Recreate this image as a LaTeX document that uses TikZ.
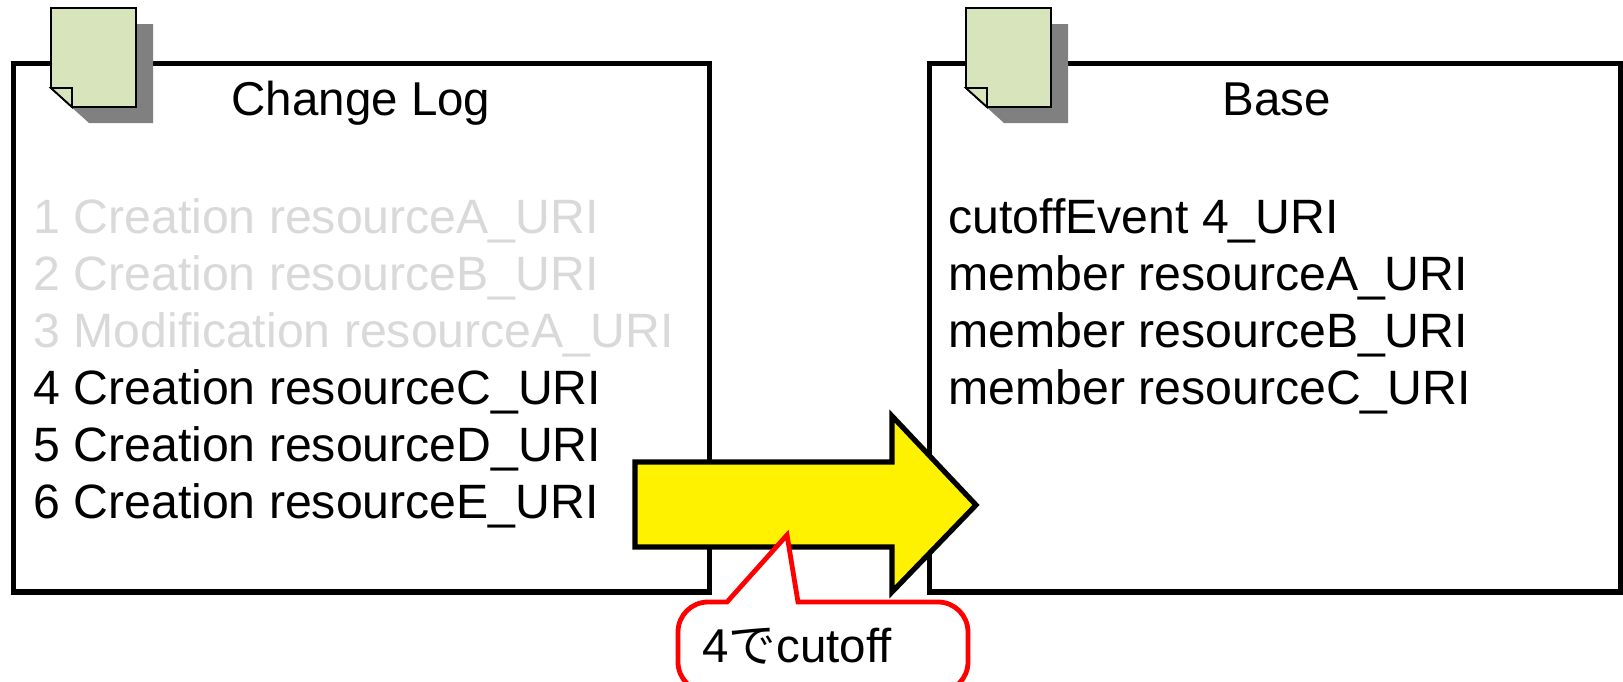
\documentclass[tikz,border=0pt]{standalone}
\usepackage{fontspec}
\setmainfont{Liberation Sans}
\newfontfamily\jpfont{Noto Sans CJK JP}
\usepackage{tikz}
\definecolor{docgreen}{RGB}{215,228,188}
\definecolor{docshadow}{RGB}{128,128,128}
\definecolor{fadedgray}{RGB}{217,217,217}

\begin{document}
\begin{tikzpicture}
[x=0.5pt,y=-0.5pt,%
  every node/.style={inner sep=0pt,font=\fontsize{23.75}{28}\selectfont},%
  panel/.style={draw,line width=2.6pt,line join=miter},%
  docpage/.style={fill=docgreen,draw,line width=0.9pt,line join=miter},%
  docshade/.style={fill=docshadow},%
  entry/.style={anchor=base west,font=\fontsize{24.1}{28}\selectfont},%
  faded/.style={entry,text=fadedgray}]
\useasboundingbox[fill=white] (0,0) rectangle (1623,681);
\draw[panel] (13.5,63.5) rectangle (709.5,592);
\draw[panel] (929.5,63.5) rectangle (1620.5,592);
\begin{scope}[shift={(51,8)}]
  \fill[docshade] (17,16) -- (102,16) -- (102,115) -- (38,115) -- (17,96) -- cycle;
  \draw[docpage] (0,0) -- (85,0) -- (85,99) -- (21,99) -- (0,80) -- cycle;
  \draw[docpage] (0,80) -- (21,80) -- (21,99) -- cycle;
\end{scope}
\begin{scope}[shift={(966,8)}]
  \fill[docshade] (17,16) -- (102,16) -- (102,115) -- (38,115) -- (17,96) -- cycle;
  \draw[docpage] (0,0) -- (85,0) -- (85,99) -- (21,99) -- (0,80) -- cycle;
  \draw[docpage] (0,80) -- (21,80) -- (21,99) -- cycle;
\end{scope}
\node[anchor=base] (logtitle) at (361,115) {Change Log};
\node[faded] (log1) at (33,233) {1 Creation resourceA\_URI};
\node[faded] (log2) at (33,290) {2 Creation resourceB\_URI};
\node[faded] (log3) at (33,347) {3 Modification resourceA\_URI};
\node[entry] (log4) at (33,404) {4 Creation resourceC\_URI};
\node[entry] (log5) at (33,461) {5 Creation resourceD\_URI};
\node[entry] (log6) at (33,518) {6 Creation resourceE\_URI};
\node[anchor=base] (basetitle) at (1276.5,115) {Base};
\node[entry] (base1) at (948,233) {cutoffEvent 4\_URI};
\node[entry] (base2) at (948,290) {member resourceA\_URI};
\node[entry] (base3) at (948,347) {member resourceB\_URI};
\node[entry] (base4) at (948,404) {member resourceC\_URI};
\draw[fill=yellow,line width=2.6pt,line join=miter]
  (635,462) -- (892,462) -- (892,416) -- (976,505) -- (892,592)
  -- (892,547) -- (635,547) -- cycle;
\draw[fill=white,draw=red,line width=2.4pt,line join=miter]
  (727,602) -- (787,535) -- (798,602)
  [rounded corners=15] -- (968,602) -- (968,692) -- (678,692) -- (678,602)
  [sharp corners] -- cycle;
\node[anchor=base west] (cutnote) at (702,662) {4{\jpfont で}cutoff};
\end{tikzpicture}
\end{document}
